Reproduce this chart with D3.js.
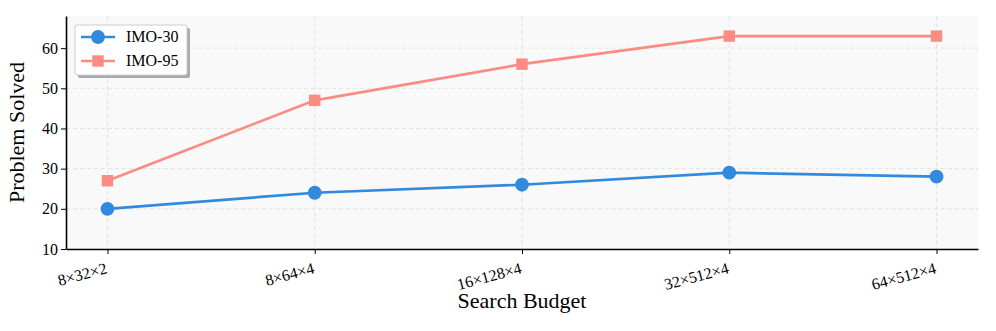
<!DOCTYPE html>
<html>
<head>
<meta charset="utf-8">
<script src="https://cdn.jsdelivr.net/npm/d3@7"></script>
<style>
  body { margin: 0; background: #fff; }
  text { font-family: "Liberation Serif", "DejaVu Serif", serif; }
</style>
</head>
<body>
<script>
// data
var budgets = ["8×32×2", "8×64×4", "16×128×4", "32×512×4", "64×512×4"];
var imo30 = [20, 24, 26, 29, 28];
var imo95 = [27, 47, 56, 63, 63];
var yTicks = [10, 20, 30, 40, 50, 60];

var margin = {top: 16, right: 18, bottom: 82, left: 66},
    width = 996 - margin.left - margin.right,
    height = 331 - margin.top - margin.bottom;

var svg = d3.select("body").append("svg")
    .attr("width", 996)
    .attr("height", 331)
  .append("g")
    .attr("transform", "translate(" + margin.left + "," + margin.top + ")");

var x = d3.scaleLinear().domain([-0.2, budgets.length - 0.8]).range([0, width]);
var y = d3.scaleLinear().domain([10, 68]).range([height, 0]);

// plot background
svg.append("rect")
    .attr("width", width)
    .attr("height", height)
    .attr("fill", "#f9f9f9");

// grid
svg.append("g")
    .selectAll("line.gy")
    .data(yTicks)
    .enter().append("line")
    .attr("x1", 0).attr("x2", width)
    .attr("y1", function(d) { return y(d); })
    .attr("y2", function(d) { return y(d); })
    .attr("stroke", "#dcdcdc")
    .attr("stroke-dasharray", "4,3")
    .attr("stroke-width", 0.8);
svg.append("g")
    .selectAll("line.gx")
    .data(budgets)
    .enter().append("line")
    .attr("x1", function(d, i) { return x(i); })
    .attr("x2", function(d, i) { return x(i); })
    .attr("y1", 0).attr("y2", height)
    .attr("stroke", "#dcdcdc")
    .attr("stroke-dasharray", "4,3")
    .attr("stroke-width", 0.8);

// axes
var xAxis = svg.append("g")
    .attr("transform", "translate(0," + height + ")")
    .call(d3.axisBottom(x).tickValues(d3.range(budgets.length))
          .tickFormat(function(i) { return budgets[i]; })
          .tickSize(5).tickSizeOuter(0));
xAxis.select(".domain").attr("stroke", "#000").attr("stroke-width", 1.6);
xAxis.selectAll("text")
    .style("font-size", "16px")
    .attr("fill", "#000")
    .style("text-anchor", "end")
    .attr("dy", null)
    .attr("y", 0)
    .attr("transform", "translate(0,24) rotate(-15)");

var yAxis = svg.append("g")
    .call(d3.axisLeft(y).tickValues(yTicks).tickSize(5).tickSizeOuter(0));
yAxis.select(".domain").attr("stroke", "#000").attr("stroke-width", 1.6);
yAxis.selectAll("text").style("font-size", "16px").attr("fill", "#000");

// labels
svg.append("text")
    .attr("x", width / 2)
    .attr("y", height + 59)
    .attr("text-anchor", "middle")
    .style("font-size", "22px")
    .text("Search Budget");
svg.append("text")
    .attr("transform", "translate(" + (-42) + "," + (height / 2) + ") rotate(-90)")
    .attr("text-anchor", "middle")
    .style("font-size", "22px")
    .text("Problem Solved");

var line = d3.line()
    .x(function(d, i) { return x(i); })
    .y(function(d) { return y(d); });

var series = [
  {name: "IMO-30", values: imo30, color: "#318ade", shape: "circle"},
  {name: "IMO-95", values: imo95, color: "#fb8c84", shape: "square"}
];

series.forEach(function(s) {
  svg.append("path")
      .datum(s.values)
      .attr("d", line)
      .attr("fill", "none")
      .attr("stroke", s.color)
      .attr("stroke-width", 2.7);
  svg.selectAll(null)
      .data(s.values)
      .enter().append("path")
      .attr("transform", function(d, i) { return "translate(" + x(i) + "," + y(d) + ")"; })
      .attr("d", d3.symbol().type(s.shape == "circle" ? d3.symbolCircle : d3.symbolSquare)
            .size(s.shape == "circle" ? 150 : 130))
      .attr("fill", s.color);
});

// legend
var lg = svg.append("g").attr("transform", "translate(9,9)");
lg.append("rect")
    .attr("x", 3).attr("y", 3)
    .attr("width", 112).attr("height", 50)
    .attr("rx", 2)
    .attr("fill", "#aaa");
lg.append("rect")
    .attr("width", 112).attr("height", 50)
    .attr("rx", 2)
    .attr("fill", "#fff")
    .attr("stroke", "#ccc");
series.forEach(function(s, i) {
  var ly = 12 + i * 24;
  lg.append("line")
      .attr("x1", 6).attr("x2", 40)
      .attr("y1", ly).attr("y2", ly)
      .attr("stroke", s.color)
      .attr("stroke-width", 2.7);
  lg.append("path")
      .attr("transform", "translate(23," + ly + ")")
      .attr("d", d3.symbol().type(s.shape == "circle" ? d3.symbolCircle : d3.symbolSquare)
            .size(s.shape == "circle" ? 150 : 130))
      .attr("fill", s.color);
  lg.append("text")
      .attr("x", 51).attr("y", ly + 5)
      .style("font-size", "16px")
      .text(s.name);
});
</script>
</body>
</html>
